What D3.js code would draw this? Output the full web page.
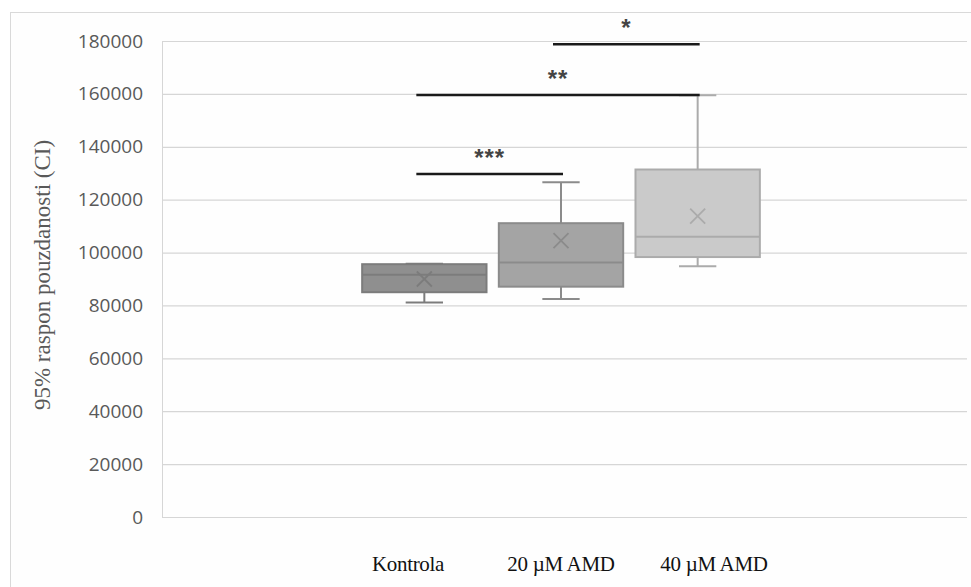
<!DOCTYPE html>
<html>
<head>
<meta charset="utf-8">
<script src="https://cdn.jsdelivr.net/npm/d3@7"></script>
<style>
    body { margin: 0; background: #ffffff; }
    svg { display: block; }
</style>
</head>
<body>
<svg id="chart" width="971" height="587"></svg>
<script>
// box plot values
const categories = ["Kontrola", "20 µM AMD", "40 µM AMD"];
const minValues = [81100, 82400, 94800];
const q1Values = [85000, 87100, 98300];
const medianValues = [91600, 96200, 106000];
const q3Values = [95600, 111100, 131400];
const maxValues = [95800, 126600, 159500];
const meanValues = [90000, 104500, 113800];
const yTicks = [0, 20000, 40000, 60000, 80000, 100000, 120000, 140000, 160000, 180000];

// significance brackets: from / to category, level, label
const sigFrom = [0, 0, 1];
const sigTo = [1, 2, 2];
const sigLevel = [129700, 159600, 178800];
const sigLabel = ["***", "**", "*"];

const PLOT = {left: 162, right: 967, top: 41, bottom: 517};
const FILLS = ["#8f8f8f", "#a4a4a4", "#cacaca"];
const STROKES = ["#7c7c7c", "#8b8b8b", "#ababab"];

const svg = d3.select("#chart");

let y = d3.scaleLinear().domain([0, 180000]).range([PLOT.bottom, PLOT.top]);
let x = d3.scaleBand().domain(categories).range([356, 766]).paddingInner(0.09).paddingOuter(0.045);
let xLabel = d3.scalePoint().domain(categories).range([408, 714]);

function drawFrame() {
    svg.append("rect").attr("x", 10.5).attr("y", 12.5).attr("width", 980).attr("height", 600)
        .style("fill", "#fefefe").style("stroke", "#d9d9d9");
}

function drawGrid() {
    let grid = svg.append("g").attr("transform", `translate(${PLOT.left},0)`)
        .call(d3.axisLeft(y).tickValues(yTicks).tickSize(-(PLOT.right - PLOT.left)).tickFormat(""));
    grid.select(".domain").remove();
    grid.selectAll("line").style("stroke", "#d6d6d6").style("stroke-width", 1.2);

    svg.append("line").attr("x1", PLOT.left + 0.5).attr("x2", PLOT.left + 0.5)
        .attr("y1", y(180000)).attr("y2", y(0)).style("stroke", "#d6d6d6");
}

function drawYAxis() {
    let axis = svg.append("g").attr("transform", `translate(${PLOT.left - 19},0)`)
        .call(d3.axisLeft(y).tickValues(yTicks).tickSize(0).tickPadding(0).tickFormat(d3.format("d")));
    axis.select(".domain").remove();
    axis.selectAll("text").style("font-family", "'Open Sans', sans-serif").style("font-size", "19px")
        .style("fill", "#595959");

    svg.append("text").attr("transform", `translate(42,275) rotate(-90)`)
        .attr("text-anchor", "middle").attr("dy", "0.35em")
        .style("font-family", "'Liberation Serif', 'Times New Roman', serif").style("font-size", "23px")
        .style("fill", "#595959").text("95% raspon pouzdanosti (CI)");
}

function drawXLabels() {
    svg.append("g").selectAll("text").data(categories).join("text")
        .attr("x", d => xLabel(d)).attr("y", 571).attr("text-anchor", "middle")
        .style("font-family", "'Liberation Serif', 'Times New Roman', serif").style("font-size", "21px")
        .style("letter-spacing", "-0.3px").style("fill", "#111111").text(d => d);
}

function drawBox(i) {
    let name = categories[i];
    let cx = x(name) + x.bandwidth() / 2;
    let w = x.bandwidth();
    let capHalf = w * 0.15;
    let g = svg.append("g").style("stroke", STROKES[i]);

    // whiskers
    g.append("line").attr("x1", cx).attr("x2", cx).attr("y1", y(maxValues[i])).attr("y2", y(q3Values[i])).style("stroke-width", 2);
    g.append("line").attr("x1", cx).attr("x2", cx).attr("y1", y(q1Values[i])).attr("y2", y(minValues[i])).style("stroke-width", 2);
    g.append("line").attr("x1", cx - capHalf).attr("x2", cx + capHalf).attr("y1", y(maxValues[i])).attr("y2", y(maxValues[i])).style("stroke-width", 2);
    g.append("line").attr("x1", cx - capHalf).attr("x2", cx + capHalf).attr("y1", y(minValues[i])).attr("y2", y(minValues[i])).style("stroke-width", 2);

    g.append("rect").attr("x", x(name)).attr("y", y(q3Values[i])).attr("width", w)
        .attr("height", y(q1Values[i]) - y(q3Values[i])).style("fill", FILLS[i]).style("stroke-width", 2);

    g.append("line").attr("x1", x(name)).attr("x2", x(name) + w)
        .attr("y1", y(medianValues[i])).attr("y2", y(medianValues[i])).style("stroke-width", 2);

    // mean marker
    let my = y(meanValues[i]);
    let s = 7.5;
    g.append("path").attr("d", `M ${cx - s},${my - s} L ${cx + s},${my + s} M ${cx - s},${my + s} L ${cx + s},${my - s}`)
        .style("fill", "none").style("stroke-width", 1.8);
}

function drawSignificance() {
    let center = i => x(categories[i]) + x.bandwidth() / 2;
    let g = svg.append("g");
    sigLabel.forEach((label, k) => {
        let x1 = center(sigFrom[k]) - 8;
        let x2 = center(sigTo[k]) + 2;
        g.append("line").attr("x1", x1).attr("x2", x2).attr("y1", y(sigLevel[k])).attr("y2", y(sigLevel[k]))
            .style("stroke", "#1a1a1a").style("stroke-width", 2.5);
        g.append("text").attr("x", (x1 + x2) / 2).attr("y", y(sigLevel[k]) - 8).attr("text-anchor", "middle")
            .style("font-family", "'Liberation Sans', sans-serif").style("font-size", "24px").style("font-weight", "bold")
            .style("letter-spacing", "1px").style("fill", "#444444").text(label);
    });
}

drawFrame();
drawGrid();
drawYAxis();
categories.forEach((c, i) => drawBox(i));
drawSignificance();
drawXLabels();
</script>
</body>
</html>
